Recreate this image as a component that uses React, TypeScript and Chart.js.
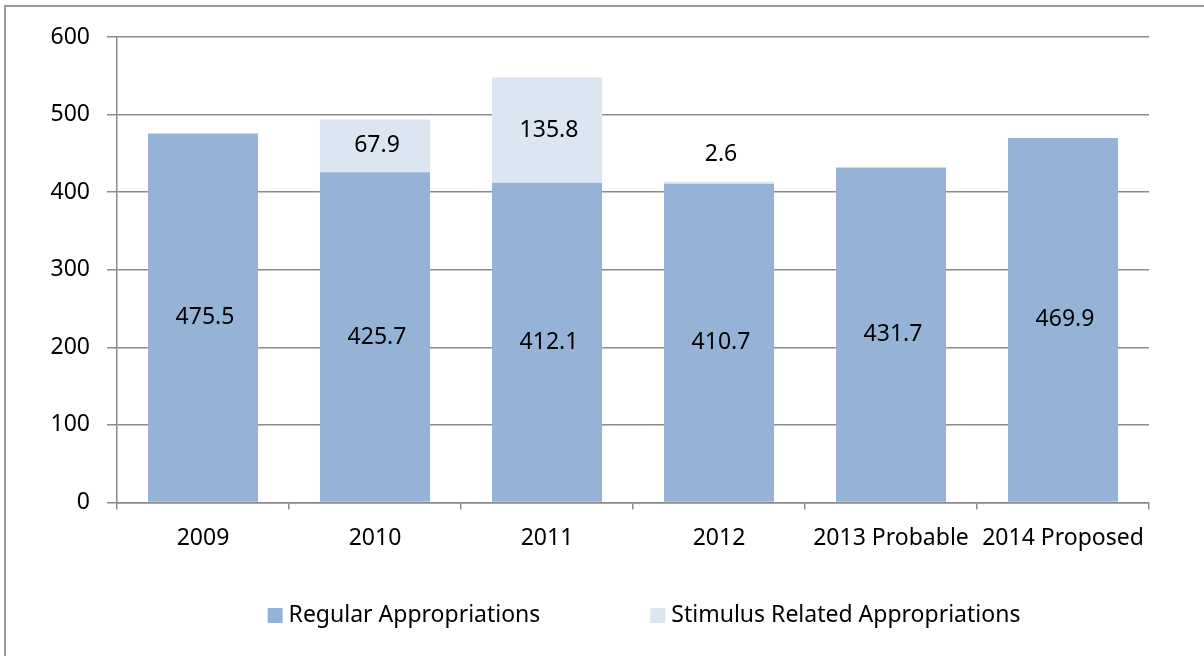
import React, { useEffect, useRef } from "react";
import { Chart, registerables } from "chart.js";

Chart.register(...registerables);

const categories = ["2009", "2010", "2011", "2012", "2013 Probable", "2014 Proposed"];
const regularValues = [475.5, 425.7, 412.1, 410.7, 431.7, 469.9];
const stimulusValues: (number | null)[] = [null, 67.9, 135.8, 2.6, null, null];
const seriesNames = ["Regular Appropriations", "Stimulus Related Appropriations"];
const yTicks = [0, 100, 200, 300, 400, 500, 600];

const FONT = "'Noto Sans'";
const FSIZE = 23;
const GRID = "#8a8a8a";
const colors = ["#95B3D7", "#DCE6F2"];

const labelPlugin = {
  id: "barLabels",
  afterDatasetsDraw(chart: any) {
    const ctx = chart.ctx;
    ctx.save();
    ctx.font = `${FSIZE}px ${FONT}`;
    ctx.fillStyle = "#000";
    ctx.textAlign = "center";
    ctx.textBaseline = "middle";
    chart.data.datasets.forEach((ds: any, di: number) => {
      const meta = chart.getDatasetMeta(di);
      meta.data.forEach((el: any, i: number) => {
        const v = ds.data[i];
        if (v === null || v === undefined) return;
        const h = Math.abs(el.base - el.y);
        let y = (el.y + el.base) / 2;
        if (h < 20) y = el.y - 27;
        ctx.fillText(v.toFixed(1), el.x + 2, y);
      });
    });
    ctx.restore();
  },
};

const legendPlugin = {
  id: "customLegend",
  afterDraw(chart: any) {
    const ctx = chart.ctx;
    ctx.save();
    ctx.font = `${FSIZE}px ${FONT}`;
    ctx.textBaseline = "middle";
    ctx.textAlign = "left";
    const box = 15;
    const gap = 6;
    const spacing = 110;
    const widths = chart.data.datasets.map((d: any) => ctx.measureText(d.label).width);
    const total = widths.reduce((a: number, w: number) => a + box + gap + w, 0) + spacing;
    const cx = (chart.chartArea.left + chart.chartArea.right) / 2 + 11;
    let x = cx - total / 2;
    const y = 615.5;
    chart.data.datasets.forEach((d: any, i: number) => {
      ctx.fillStyle = d.backgroundColor;
      ctx.fillRect(x, y - box / 2, box, box);
      ctx.fillStyle = "#000";
      ctx.fillText(d.label, x + box + gap, y);
      x += box + gap + widths[i] + spacing;
    });
    ctx.restore();
  },
};

export default function App() {
  const ref = useRef<HTMLCanvasElement>(null);
  useEffect(() => {
    if (!ref.current) return;
    const chart = new Chart(ref.current, {
      type: "bar",
      data: {
        labels: categories,
        datasets: [
          {
            label: seriesNames[0],
            data: regularValues,
            backgroundColor: colors[0],
            barPercentage: 0.64,
            categoryPercentage: 1,
          },
          {
            label: seriesNames[1],
            data: stimulusValues,
            backgroundColor: colors[1],
            barPercentage: 0.64,
            categoryPercentage: 1,
          },
        ],
      },
      options: {
        animation: false,
        responsive: false,
        layout: { padding: { top: 37, right: 55, bottom: 93.5, left: 0 } },
        plugins: {
          legend: { display: false },
          tooltip: { enabled: false },
        },
        scales: {
          x: {
            stacked: true,
            grid: {
              display: true,
              drawOnChartArea: false,
              drawTicks: true,
              tickLength: 7,
              color: GRID,
              lineWidth: 1.5,
              offset: true,
            },
            border: { display: true, color: GRID, width: 1.5 },
            ticks: {
              color: "#000",
              font: { family: FONT, size: FSIZE },
              padding: 15,
              maxRotation: 0,
              autoSkip: false,
            },
            afterFit(scale: any) {
              scale.height = 60;
            },
          },
          y: {
            stacked: true,
            min: 0,
            max: 600,
            afterBuildTicks(scale: any) {
              scale.ticks = yTicks.map((v) => ({ value: v }));
            },
            grid: {
              color: GRID,
              lineWidth: 1.5,
              drawTicks: true,
              tickLength: 10,
            },
            border: { display: true, color: GRID, width: 1.5 },
            ticks: {
              color: "#000",
              font: { family: FONT, size: FSIZE },
              padding: 17,
            },
            afterFit(scale: any) {
              scale.width = 117;
            },
          },
        },
      },
      plugins: [labelPlugin, legendPlugin],
    });
    return () => chart.destroy();
  }, []);

  return (
    <div style={{ position: "fixed", left: 0, top: 0, width: 1204, height: 656, overflow: "hidden", background: "#fff" }}>
      <div
        style={{
          position: "absolute",
          left: 4,
          top: 5,
          width: 1400,
          height: 900,
          borderTop: "2px solid #9a9a9a",
          borderLeft: "2px solid #9a9a9a",
        }}
      />
      <canvas ref={ref} width={1204} height={656} style={{ position: "absolute", left: 0, top: 0 }} />
    </div>
  );
}
